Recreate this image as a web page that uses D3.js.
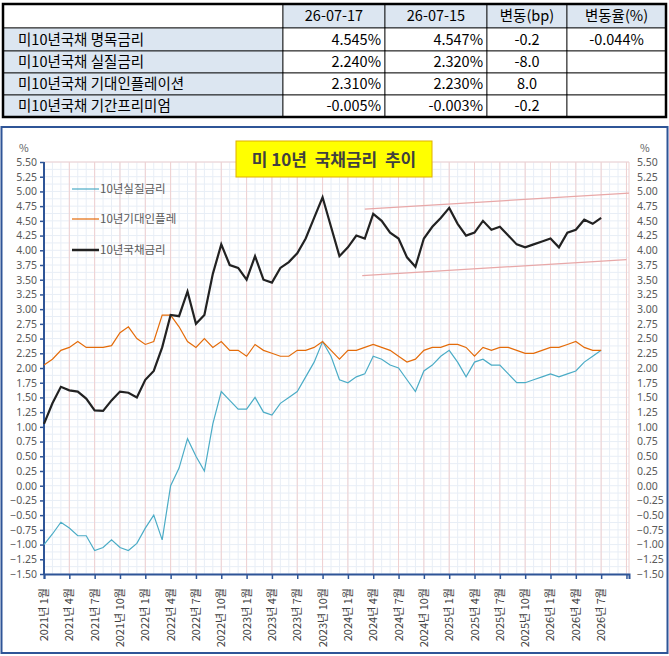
<!DOCTYPE html>
<html><head><meta charset="utf-8">
<script src="https://cdn.jsdelivr.net/npm/d3@7"></script>
<style>body{margin:0;background:#fff;font-family:"Noto Sans CJK KR","Noto Sans",sans-serif}</style>
</head><body><svg id="c" width="669" height="656"></svg>
<script>
const tableHeader = ["", "26-07-17", "26-07-15", "변동(bp)", "변동율(%)"];
const tableRows = [
  ["미10년국채 명목금리", "4.545%", "4.547%", "-0.2", "-0.044%"],
  ["미10년국채 실질금리", "2.240%", "2.320%", "-8.0", ""],
  ["미10년국채 기대인플레이션", "2.310%", "2.230%", "8.0", ""],
  ["미10년국채 기간프리미엄", "-0.005%", "-0.003%", "-0.2", ""]
];
// monthly values, Jan 2021 .. Jul 2026
const nominal = [1.05,1.4,1.68,1.62,1.6,1.48,1.28,1.27,1.45,1.6,1.58,1.5,
 1.8,1.95,2.35,2.9,2.88,3.3,2.75,2.9,3.6,4.1,3.75,3.7,
 3.5,3.9,3.5,3.45,3.7,3.8,3.95,4.2,4.55,4.9,4.4,3.9,
 4.05,4.25,4.2,4.62,4.5,4.3,4.2,3.88,3.72,4.2,4.4,4.55,
 4.72,4.45,4.25,4.3,4.5,4.35,4.4,4.25,4.1,4.05,4.1,4.15,
 4.2,4.05,4.3,4.35,4.52,4.45,4.55];
const realRate = [-1.0,-0.82,-0.62,-0.72,-0.85,-0.85,-1.1,-1.05,-0.92,-1.05,-1.1,-0.98,
 -0.72,-0.5,-0.92,0.0,0.3,0.8,0.5,0.25,1.05,1.6,1.45,1.3,
 1.3,1.5,1.25,1.2,1.4,1.5,1.6,1.85,2.1,2.45,2.2,1.8,
 1.75,1.85,1.9,2.2,2.15,2.05,2.0,1.8,1.6,1.95,2.05,2.2,
 2.3,2.1,1.85,2.1,2.15,2.05,2.05,1.9,1.75,1.75,1.8,1.85,
 1.9,1.85,1.9,1.95,2.1,2.2,2.3];
const breakeven = [2.05,2.15,2.3,2.35,2.45,2.35,2.35,2.35,2.38,2.6,2.7,2.5,
 2.4,2.45,2.9,2.9,2.7,2.45,2.35,2.5,2.35,2.45,2.3,2.3,
 2.2,2.4,2.3,2.25,2.2,2.2,2.3,2.3,2.35,2.45,2.3,2.15,
 2.3,2.3,2.35,2.4,2.35,2.3,2.2,2.1,2.15,2.3,2.35,2.35,
 2.4,2.4,2.35,2.2,2.35,2.3,2.35,2.35,2.3,2.25,2.25,2.3,
 2.35,2.35,2.4,2.45,2.35,2.3,2.3];
const xLabels = [];
for (let y=2021;y<=2026;y++) for (const m of [1,4,7,10]) if(!(y===2026&&m===10)) xLabels.push(`${y}년 ${m}월`);
const yTicks = d3.range(-1.5, 5.5001, 0.25);
const upperTrend = [[38,4.70],[69.3,4.97]];
const lowerTrend = [[37.7,3.57],[69,3.84]];

const svg = d3.select("#c");
// ---- table ----
const colX = [3,283,385,487,567,666], rowY=[4,28,51,73,95,117];
const tg = svg.append("g");
for (let r=0;r<5;r++) for (let c=0;c<5;c++){
  const fill = (r===0&&c>0)||(r>0&&c===0) ? "#dce6f1" : "#fff";
  tg.append("rect").attr("x",colX[c]).attr("y",rowY[r]).attr("width",colX[c+1]-colX[c]).attr("height",rowY[r+1]-rowY[r])
    .attr("fill",fill).attr("stroke","#000").attr("stroke-width",0.8);
  const txt = r===0 ? tableHeader[c] : tableRows[r-1][c];
  const t = tg.append("text").attr("y",(rowY[r]+rowY[r+1])/2+5).attr("font-size",14.5).attr("fill","#000").text(txt);
  if (c===0) t.attr("x",18);
  else if (r===0 || c>=3) t.attr("x",(colX[c]+colX[c+1])/2).attr("text-anchor","middle");
  else t.attr("x",colX[c+1]-4).attr("text-anchor","end");
}
tg.append("rect").attr("x",3).attr("y",4).attr("width",663).attr("height",113).attr("fill","none").attr("stroke","#000").attr("stroke-width",2.5);

// ---- chart ----
svg.append("rect").attr("x",1.5).attr("y",127).attr("width",666).attr("height",526).attr("fill","#fff").attr("stroke","#2f5597").attr("stroke-width",2);
const L=44,R=629,T=162,B=574;
const x = d3.scaleLinear().domain([0,69.3]).range([L,R]);
const y = d3.scaleLinear().domain([-1.5,5.5]).range([B,T]);
const g = svg.append("g");
g.selectAll(".hm").data(d3.range(-1.5,5.5001,0.125)).join("line").attr("x1",L).attr("x2",R).attr("y1",d=>y(d)).attr("y2",d=>y(d)).attr("stroke","#e8eef6").attr("stroke-width",1);
g.selectAll(".vm").data(d3.range(1,70)).join("line").attr("x1",d=>x(d)).attr("x2",d=>x(d)).attr("y1",T).attr("y2",B).attr("stroke","#e8eef6");
g.selectAll(".vM").data(d3.range(0,70,3)).join("line").attr("x1",d=>x(d)).attr("x2",d=>x(d)).attr("y1",T).attr("y2",B).attr("stroke","#f0d0d0");
g.append("line").attr("x1",L).attr("x2",R).attr("y1",T).attr("y2",T).attr("stroke","#f0d0d0");
g.append("line").attr("x1",R).attr("x2",R).attr("y1",T).attr("y2",B).attr("stroke","#f0d0d0");
const yl = svg.append("g").attr("transform",`translate(${L},0)`).call(d3.axisLeft(y).tickValues(yTicks).tickFormat(d3.format(".2f")).tickSize(4));
const yr = svg.append("g").attr("transform",`translate(${R},0)`).call(d3.axisRight(y).tickValues(yTicks).tickFormat(d3.format(".2f")).tickSize(0).tickPadding(8));
yr.select(".domain").remove();
const xa = svg.append("g").attr("transform",`translate(0,${B})`).call(d3.axisBottom(x).tickValues(d3.range(0,70,3)).tickSize(5).tickFormat(""));
[yl,xa].forEach(a=>{a.select(".domain").attr("stroke","#2f5597").attr("stroke-width",2);a.selectAll(".tick line").attr("stroke","#2f5597").attr("stroke-width",1.5);});
yl.select(".domain").attr("d",`M0,${B}V${T}`);
[yl,yr].forEach(a=>a.selectAll("text").attr("font-size",10.5).attr("fill","#595959").attr("font-family","Noto Sans, sans-serif"));
xLabels.forEach((s,i)=>{
  svg.append("text").attr("transform",`translate(${x(i*3)+4},588) rotate(-90)`).attr("text-anchor","end")
   .attr("font-size",11).attr("fill","#404040").attr("font-family","Noto Sans CJK KR").text(s);
});
svg.append("text").attr("x",19).attr("y",152).attr("font-size",10.5).attr("fill","#595959").text("%");
svg.append("text").attr("x",640).attr("y",152).attr("font-size",10.5).attr("fill","#595959").text("%");
[upperTrend,lowerTrend].forEach(tr=>svg.append("line").attr("x1",x(tr[0][0])).attr("y1",y(tr[0][1])).attr("x2",x(tr[1][0])).attr("y2",y(tr[1][1])).attr("stroke","#e8a8a8").attr("stroke-width",1.2));
const line = d3.line().x((d,i)=>x(i)).y(d=>y(d));
svg.append("path").datum(realRate).attr("d",line).attr("fill","none").attr("stroke","#4bacc6").attr("stroke-width",1.2);
svg.append("path").datum(breakeven).attr("d",line).attr("fill","none").attr("stroke","#e46c0a").attr("stroke-width",1.2);
svg.append("path").datum(nominal).attr("d",line).attr("fill","none").attr("stroke","#222").attr("stroke-width",2.2);
const leg=[["10년실질금리","#4bacc6",1.2],["10년기대인플레","#e46c0a",1.2],["10년국채금리","#222",2.5]];
leg.forEach((l,i)=>{
  const yy=[189,219,250][i];
  svg.append("line").attr("x1",72).attr("x2",99).attr("y1",yy).attr("y2",yy).attr("stroke",l[1]).attr("stroke-width",l[2]);
  svg.append("text").attr("x",100).attr("y",yy+4).attr("font-size",11.5).attr("fill","#595959").text(l[0]);
});
svg.append("rect").attr("x",236).attr("y",141).attr("width",196).attr("height",36).attr("fill","#ffff00").attr("stroke","#e0b000").attr("stroke-width",1);
svg.append("text").attr("x",334).attr("y",166).attr("text-anchor","middle").attr("font-size",17).attr("font-weight","bold").attr("fill","#404040").attr("xml:space","preserve").text("미 10년  국채금리  추이");
</script></body></html>
